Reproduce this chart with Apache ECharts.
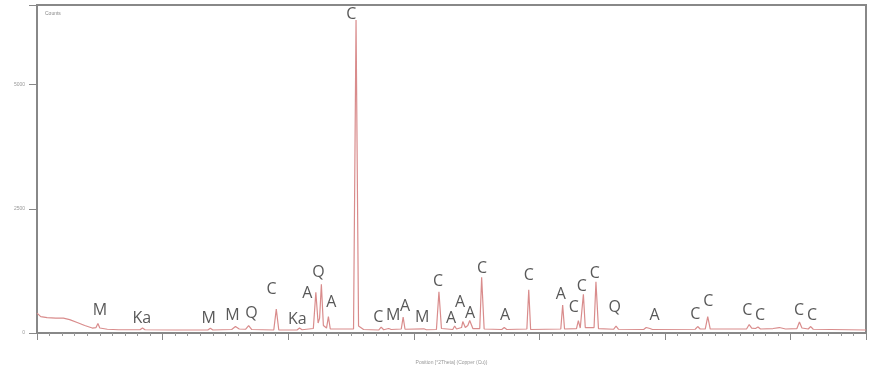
<!DOCTYPE html>
<html>
<head>
<meta charset="utf-8">
<script src="https://cdn.jsdelivr.net/npm/echarts@6/dist/echarts.min.js"></script>
<style>html,body{margin:0;padding:0;background:#fff}#c{width:872px;height:373px}</style>
</head>
<body>
<div id="c"></div>
<script>
const twoTheta = [4.0,4.3,4.8,5.5,6.1,6.6,7.2,7.8,8.4,8.7,8.85,9.0,9.6,10.5,12.2,12.4,12.6,15.0,17.6,17.8,18.0,19.5,19.8,20.1,20.6,20.85,21.1,22.85,23.05,23.25,24.7,24.9,25.1,26.0,26.2,26.38,26.5,26.64,26.8,27.05,27.2,27.35,29.2,29.4,29.6,30.0,31.2,31.4,31.6,32.0,32.2,33.0,33.15,33.3,34.8,35.0,35.8,36.0,36.2,37.1,37.25,37.4,37.8,37.9,38.1,38.3,38.45,38.7,39.25,39.4,39.6,41.0,41.2,41.4,43.0,43.15,43.3,45.7,45.85,46.0,46.95,47.1,47.25,47.4,47.5,47.65,48.35,48.5,48.7,49.9,50.1,50.3,52.3,52.5,52.8,53.0,56.4,56.6,56.8,57.2,57.4,57.6,60.5,60.7,60.9,61.2,61.4,61.6,62.6,63.1,63.6,64.5,64.7,64.9,65.4,65.6,65.8,70.0];
const counts = [400,330,310,300,300,270,210,150,100,110,190,100,75,65,65,100,65,60,60,95,60,70,130,80,75,150,70,60,480,60,60,100,65,90,820,200,300,980,150,100,330,80,80,6300,140,70,60,120,65,90,70,80,320,75,85,65,70,830,90,70,140,80,110,230,110,150,250,90,90,1120,80,70,110,70,80,870,70,80,560,80,90,250,100,120,780,110,110,1030,90,75,140,75,70,110,90,70,75,130,80,80,330,80,85,170,100,90,120,80,90,110,80,90,220,100,80,130,75,60];

const labelText = ['M','Ka','M','M','Q','C','Ka','A','Q','A','C','C','M','A','M','C','A','A','A','C','A','C','A','C','C','C','Q','A','C','C','C','C','C','C'];
const labelTheta = [9.01,12.34,17.66,19.57,21.08,22.67,24.73,25.53,26.40,27.43,29.02,31.17,32.36,33.31,34.66,35.93,36.97,37.68,38.48,39.43,41.26,43.16,45.70,46.73,47.37,48.40,49.99,53.17,56.41,57.44,60.54,61.57,64.67,65.70];
const labelCounts = [444,302,302,363,403,867,282,806,1210,625,6411,323,363,544,323,1028,302,625,403,1290,363,1149,766,524,927,1189,524,363,383,645,464,363,464,363];

const xTicks = [10,20,30,40,50,60];
const yTicks = [0,2500,5000];

const chart = echarts.init(document.getElementById('c'), null, {renderer:'canvas'});
chart.setOption({
  animation:false,
  backgroundColor:'#fff',
  title:{text:'Counts', left:40, top:6, textStyle:{fontSize:5, color:'#888', fontWeight:'normal'}},
  grid:{left:37, right:6, top:5, bottom:40, show:true, borderColor:'#888', borderWidth:2},
  xAxis:{
    type:'value', min:4, max:70, interval:10,
    name:'Position [°2Theta] (Copper (Cu))', nameLocation:'middle', nameGap:27,
    nameTextStyle:{fontSize:5, color:'#999'},
    axisLine:{show:true, lineStyle:{color:'#888', width:2}},
    axisTick:{show:true, length:7, lineStyle:{color:'#888'}},
    minorTick:{show:true, splitNumber:10, length:3, lineStyle:{color:'#999'}},
    axisLabel:{fontSize:5, color:'#999', margin:10,
      formatter:v=> xTicks.includes(v)? String(v):''},
    splitLine:{show:false}
  },
  yAxis:{
    type:'value', min:0, max:6600, interval:2500,
    axisLine:{show:true, lineStyle:{color:'#888', width:2}},
    axisTick:{show:true, length:8, lineStyle:{color:'#888'}},
    axisLabel:{fontSize:5, color:'#999', margin:12,
      formatter:v=> yTicks.includes(v)? String(v):''},
    splitLine:{show:false}
  },
  series:[
    {type:'line', showSymbol:false, data: twoTheta.map((t,i)=>[t,counts[i]]),
     lineStyle:{color:'#d98c8c', width:1.2}, itemStyle:{color:'#d98c8c'}, z:2},
    {type:'scatter', symbolSize:0, silent:true, z:3,
     data: labelTheta.map((t,i)=>[t,labelCounts[i],labelText[i]]),
     label:{show:true, position:'inside', formatter:p=>p.data[2],
       fontSize:16, color:'#2e2e2e', fontFamily:'Open Sans'}}
  ]
});
</script>
</body>
</html>
